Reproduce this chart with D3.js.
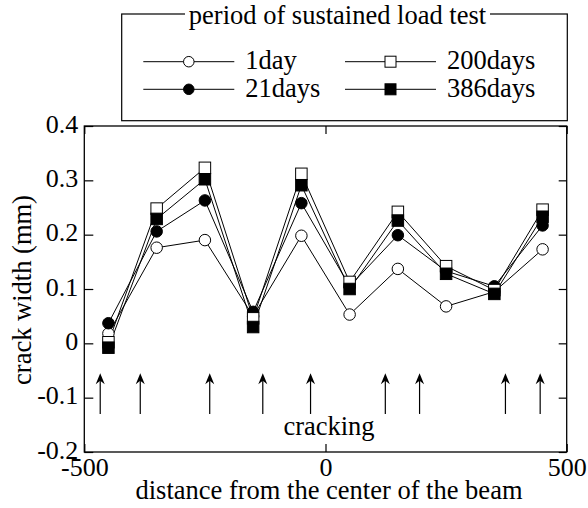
<!DOCTYPE html>
<html>
<head>
<meta charset="utf-8">
<script src="https://cdn.jsdelivr.net/npm/d3@7"></script>
<style>
  html, body { margin: 0; padding: 0; background: #fff; }
  svg { display: block; }
  svg text { font-family: "Liberation Serif", "Tinos", "Times New Roman", Times, serif !important; fill: #000; }
</style>
</head>
<body>
<script>
// ---- data ----
const positions = [-450, -350, -250, -150, -50, 50, 150, 250, 350, 450];
const day1    = [0.018, 0.176, 0.190, 0.050, 0.198, 0.053, 0.137, 0.068, 0.095, 0.173];
const days21  = [0.037, 0.206, 0.263, 0.058, 0.258, 0.105, 0.199, 0.133, 0.105, 0.217];
const days200 = [0.002, 0.248, 0.323, 0.046, 0.312, 0.113, 0.242, 0.142, 0.098, 0.246];
const days386 = [-0.008, 0.229, 0.302, 0.030, 0.291, 0.100, 0.226, 0.128, 0.091, 0.233];
const seriesNames = ["1day", "21days", "200days", "386days"];
const crackPositions = [-467, -384, -240, -130, -31, 124, 195, 373, 445];
const xTicks = [-500, 0, 500];
const xTickLabels = ["-500", "0", "500"];
const yTicks = [-0.2, -0.1, 0, 0.1, 0.2, 0.3, 0.4];
const yTickLabels = ["-0.2", "-0.1", "0", "0.1", "0.2", "0.3", "0.4"];

const W = 588, H = 508;
const pL = 84.3, pR = 566.7, pT = 126, pB = 452;
const FONT = "'Liberation Serif', Tinos, 'Times New Roman', Times, serif";
const FS = 26.5, TICKFS = 26;

const svg = d3.select("body").append("svg").attr("width", W).attr("height", H)
  .attr("font-family", FONT);

const x = d3.scaleLinear().domain([-500, 500]).range([pL, pR]);
const y = d3.scaleLinear().domain([-0.2, 0.4]).range([pB, pT]);

// axes (inward ticks)
const axL = d3.axisLeft(y).tickValues(yTicks).tickFormat((d, i) => yTickLabels[i]).tickSizeInner(-9).tickSizeOuter(0).tickPadding(6);
const axR = d3.axisRight(y).tickValues(yTicks).tickFormat("").tickSizeInner(-8).tickSizeOuter(0);
const axB = d3.axisBottom(x).tickValues(xTicks).tickFormat((d, i) => xTickLabels[i]).tickSizeInner(-8).tickSizeOuter(0).tickPadding(4);
const axT = d3.axisTop(x).tickValues(xTicks).tickFormat("").tickSizeInner(-8).tickSizeOuter(0);

function styleAxis(g) {
  g.attr("font-family", FONT).attr("font-size", TICKFS);
  g.select(".domain").remove();
  g.selectAll("line").attr("stroke", "#000").attr("stroke-width", 1.2);
  g.selectAll("text").attr("fill", "#000");
}
svg.append("g").attr("transform", `translate(${pL},0)`).call(axL).call(styleAxis)
  .selectAll("text").attr("dy", 6);
svg.append("g").attr("transform", `translate(${pR},0)`).call(axR).call(styleAxis);
svg.append("g").attr("transform", `translate(0,${pB})`).call(axB).call(styleAxis)
  .selectAll("text").attr("dy", 20);
svg.append("g").attr("transform", `translate(0,${pT})`).call(axT).call(styleAxis);

// frame
svg.append("rect").attr("x", pL).attr("y", pT).attr("width", pR - pL).attr("height", pB - pT)
  .attr("fill", "none").attr("stroke", "#000").attr("stroke-width", 1.3);

// axis titles
svg.append("text").attr("x", 329).attr("y", 499).attr("text-anchor", "middle").attr("font-size", FS)
  .text("distance from the center of the beam");
svg.append("text").attr("transform", `translate(31,290) rotate(-90)`).attr("text-anchor", "middle").attr("font-size", FS)
  .text("crack width (mm)");

// cracking arrows
const arrowTop = -0.055, arrowBottom = -0.13;
const arrows = svg.append("g");
crackPositions.forEach(p => {
  const ax = x(p), y0 = y(arrowBottom), y1 = y(arrowTop);
  arrows.append("line").attr("x1", ax).attr("x2", ax).attr("y1", y0).attr("y2", y1 + 4)
    .attr("stroke", "#000").attr("stroke-width", 1.2);
  arrows.append("path").attr("d", `M${ax},${y1} L${ax - 4.5},${y1 + 11} L${ax},${y1 + 7.5} L${ax + 4.5},${y1 + 11} Z`)
    .attr("fill", "#000");
});
svg.append("text").attr("x", 329).attr("y", 435).attr("text-anchor", "middle").attr("font-size", FS).text("cracking");

// series
const series = [
  { name: seriesNames[0], values: day1, shape: "circle", fill: "#fff" },
  { name: seriesNames[1], values: days21, shape: "circle", fill: "#000" },
  { name: seriesNames[2], values: days200, shape: "square", fill: "#fff" },
  { name: seriesNames[3], values: days386, shape: "square", fill: "#000" }
];
const line = d3.line().x((d, i) => x(positions[i])).y(d => y(d));
series.forEach(s => {
  svg.append("path").attr("d", line(s.values)).attr("fill", "none").attr("stroke", "#000").attr("stroke-width", 1);
});
function marker(g, shape, fill, cx, cy, size) {
  if (shape === "circle") {
    g.append("circle").attr("cx", cx).attr("cy", cy).attr("r", size / 2)
      .attr("fill", fill).attr("stroke", "#000").attr("stroke-width", 1);
  } else {
    g.append("rect").attr("x", cx - size / 2).attr("y", cy - size / 2).attr("width", size).attr("height", size)
      .attr("fill", fill).attr("stroke", "#000").attr("stroke-width", 1);
  }
}
series.forEach(s => {
  const g = svg.append("g");
  s.values.forEach((v, i) => marker(g, s.shape, s.fill, x(positions[i]), y(v), 11.5));
});

// legend
const lg = svg.append("g");
lg.append("rect").attr("x", 121.7).attr("y", 14).attr("width", 567.3 - 121.7).attr("height", 120.7 - 14)
  .attr("fill", "none").attr("stroke", "#000").attr("stroke-width", 1.2);
lg.append("rect").attr("x", 185).attr("y", 8).attr("width", 305).attr("height", 14).attr("fill", "#fff");
lg.append("text").attr("x", 337.5).attr("y", 24).attr("text-anchor", "middle").attr("font-size", FS)
  .text("period of sustained load test");
const legendItems = [
  { s: series[0], lx: 143.3, ly: 61.7 },
  { s: series[1], lx: 143.3, ly: 89.3 },
  { s: series[2], lx: 345, ly: 61.7 },
  { s: series[3], lx: 345, ly: 89.3 }
];
legendItems.forEach(it => {
  lg.append("line").attr("x1", it.lx).attr("x2", it.lx + 91).attr("y1", it.ly).attr("y2", it.ly)
    .attr("stroke", "#000").attr("stroke-width", 1);
  marker(lg, it.s.shape, it.s.fill, it.lx + 45.5, it.ly, it.s.shape === "circle" ? 10.5 : 11);
  lg.append("text").attr("x", it.lx + 102).attr("y", it.ly + 7.6).attr("font-size", FS).text(it.s.name);
});
</script>
</body>
</html>
